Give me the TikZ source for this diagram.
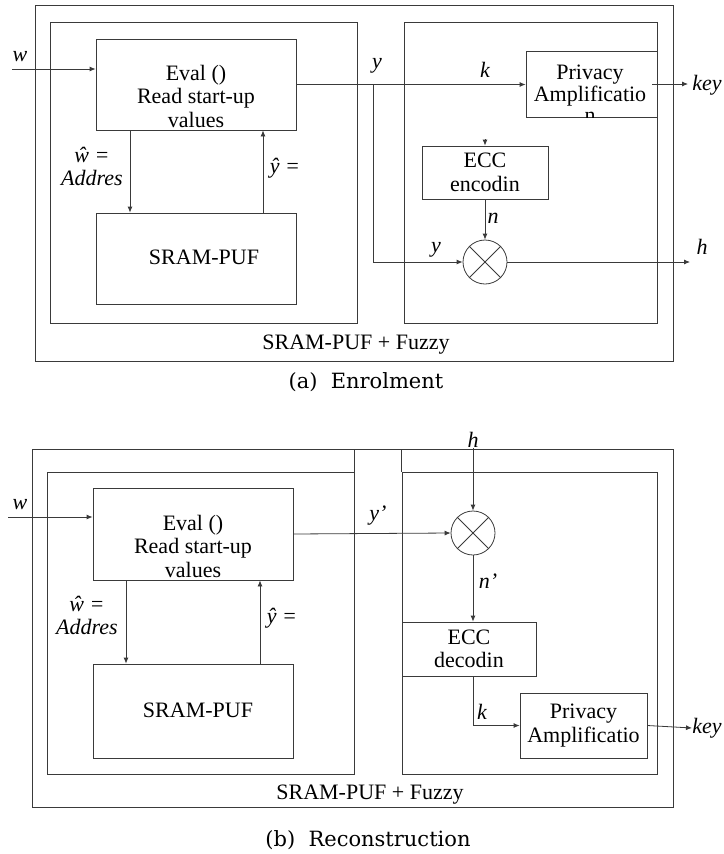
\documentclass[tikz,border=0pt]{standalone}
\usepackage{fontspec}
\setmainfont{Liberation Serif}
\newfontfamily\capfont{DejaVu Serif}
\usepackage{xcolor}
\usetikzlibrary{arrows.meta}
\definecolor{linegray}{HTML}{3A3A3A}
\tikzset{
  frame/.style={draw=linegray, line width=0.9pt, inner sep=0pt},
  blk/.style={draw=linegray, line width=0.8pt, align=center, inner sep=0pt},
  xorc/.style={draw=linegray, circle, line width=0.8pt, minimum size=44pt, inner sep=0pt},
  arrow/.style={-{Latex[length=6pt,width=5pt]}, line width=0.8pt, draw=linegray},
  conn/.style={line width=0.8pt, draw=linegray},
  var/.style={font=\fontsize{22}{23}\selectfont\itshape, inner sep=0pt},
  txt/.style={align=center, inner sep=0pt},
  caption/.style={font=\capfont\fontsize{21}{24}\selectfont, inner sep=0pt}
}

\begin{document}
\begin{tikzpicture}[x=1pt, y=-1pt, font=\fontsize{22}{23.5}\selectfont]
  \useasboundingbox (0,0) rectangle (723,854);

  % (a) enrolment
  \node[frame, minimum width=638pt, minimum height=356pt] (outerA) at (354,183) {};
  \node[frame, minimum width=307pt, minimum height=301pt] (leftA) at (203.5,172.5) {};
  \node[frame, minimum width=253pt, minimum height=301pt] (rightA) at (530.5,172.5) {};
  \node[blk, minimum width=200pt, minimum height=91pt] (evalA) at (196,84.5) {};
  \node[txt] at (196,96) {Eval ()\\Read start-up\\values};
  \node[blk, minimum width=200pt, minimum height=91pt] (sramA) at (196,258.5) {};
  \node[txt] at (204,257) {SRAM-PUF};
  \node[blk, minimum width=131pt, minimum height=66pt] (privA) at (591.5,84) {};
  \begin{scope}
    \clip (privA.north west) rectangle (privA.south east);
    \node[txt, font=\fontsize{22}{21.5}\selectfont] at (590,94) {Privacy\\Amplificatio\\n};
  \end{scope}
  \node[blk, minimum width=126pt, minimum height=53pt] (eccA) at (485,172.5) {ECC\\encodin};
  \node[xorc] (xorA) at (485,262) {};
  \draw[conn] (xorA.north east) -- (xorA.south west) (xorA.north west) -- (xorA.south east);

  \coordinate (wA) at (12,69);
  \coordinate (brA) at (373,84.5);
  \coordinate (topA) at (485,139);
  \coordinate (hA) at (690,262);
  \coordinate (keyA) at (688,84);
  \draw[arrow] (wA) -- (wA -| evalA.west);
  \draw[arrow] ([xshift=-66pt]evalA.south) -- ([xshift=-66pt]sramA.north);
  \draw[arrow] ([xshift=67pt]sramA.north) -- ([xshift=67pt]evalA.south);
  \draw[arrow] (evalA.east) -- (evalA.east -| privA.west);
  \draw[arrow] (brA) |- (xorA.west);
  \draw[arrow] (topA) -- (eccA.north);
  \draw[arrow] (eccA.south) -- (xorA.north);
  \draw[arrow] (xorA.east) -- (hA);
  \draw[arrow] ([xshift=-5pt]privA.east) -- (keyA);

  \node[var] at (20,57) {w};
  \node[var, align=center] at (92,166) {ŵ =\\Addres};
  \node[var] at (285,168) {ŷ =};
  \node[var] at (377,66) {y};
  \node[var] at (485,70) {k};
  \node[var] at (493,218) {n};
  \node[var] at (436,250) {y};
  \node[var] at (702,247) {h};
  \node[var] at (707,85) {key};
  \node[txt] at (356,345) {SRAM-PUF + Fuzzy};
  \node[caption] at (366,382) {(a)\ \ Enrolment};

  % (b) reconstruction
  \node[frame, minimum width=641pt, minimum height=358pt] (outerB) at (352.5,628) {};
  \node[frame, minimum width=307pt, minimum height=302pt] (leftB) at (200.5,623) {};
  \node[frame, minimum width=255pt, minimum height=302pt] (rightB) at (529.5,623) {};
  \draw[conn] (leftB.north east) -- (leftB.north east |- outerB.north);
  \draw[conn] (rightB.north west) -- (rightB.north west |- outerB.north);
  \node[blk, minimum width=200pt, minimum height=92pt] (evalB) at (193,534) {};
  \node[txt] at (193,546) {Eval ()\\Read start-up\\values};
  \node[blk, minimum width=200pt, minimum height=94pt] (sramB) at (193,711) {};
  \node[txt] at (198,710) {SRAM-PUF};
  \node[xorc] (xorB) at (473,533) {};
  \draw[conn] (xorB.north east) -- (xorB.south west) (xorB.north west) -- (xorB.south east);
  \node[blk, minimum width=134pt, minimum height=54pt] (eccB) at (469,649) {ECC\\decodin};
  \node[blk, minimum width=127pt, minimum height=65pt] (privB) at (583.5,725.5) {Privacy\\Amplificatio};

  \coordinate (wB) at (8,517);
  \coordinate (hB) at (473,448);
  \coordinate (keyB) at (692,728);
  \draw[arrow] (wB) -- (wB -| evalB.west);
  \draw[arrow] ([xshift=-67pt]evalB.south) -- ([xshift=-67pt]sramB.north);
  \draw[arrow] ([xshift=67pt]sramB.north) -- ([xshift=67pt]evalB.south);
  \draw[arrow] (evalB.east) -- (xorB.west);
  \draw[arrow] (hB) -- (xorB.north);
  \draw[arrow] (xorB.south) -- (eccB.north -| xorB.south);
  \draw[arrow] ([xshift=4pt]eccB.south) |- (privB.west);
  \draw[arrow] (privB.east) -- (keyB);

  \node[var] at (20,505) {w};
  \node[var, align=center] at (87,615) {ŵ =\\Addres};
  \node[var] at (282,618) {ŷ =};
  \node[var] at (378,516) {y’};
  \node[var] at (473,440) {h};
  \node[var] at (488,581) {n’};
  \node[var] at (482,712) {k};
  \node[var] at (707,728) {key};
  \node[txt] at (370,795) {SRAM-PUF + Fuzzy};
  \node[caption] at (368,840) {(b)\ \ Reconstruction};
\end{tikzpicture}
\end{document}
